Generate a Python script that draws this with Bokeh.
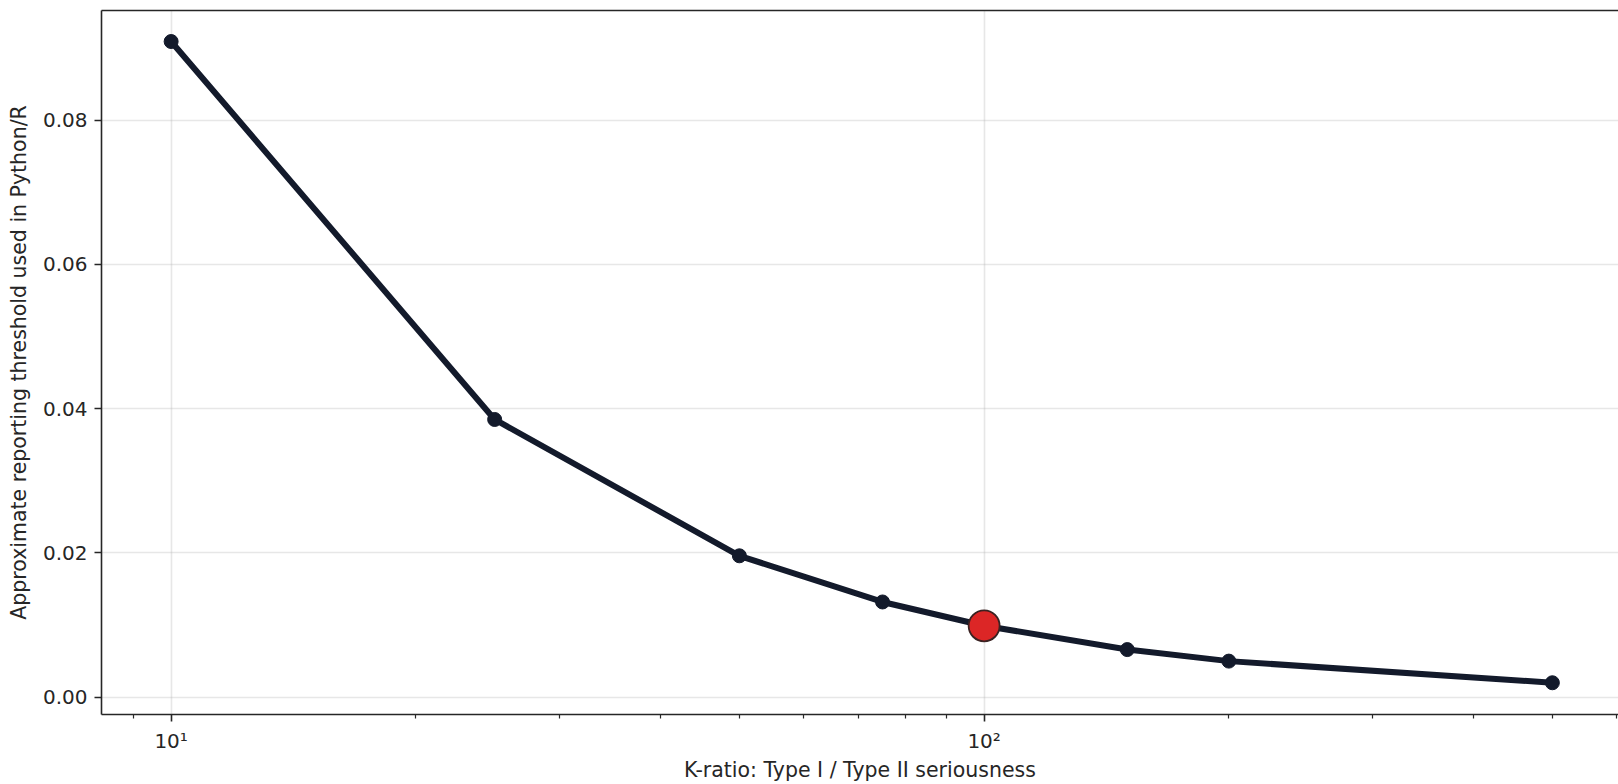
from bokeh.plotting import figure
from bokeh.models import FixedTicker, LinearAxis, Range1d, PrintfTickFormatter, ColumnDataSource
from bokeh.embed import file_html
from bokeh.resources import INLINE

# Data
K_RATIO = [10, 25, 50, 75, 100, 150, 200, 500]
THRESHOLD = [0.0909, 0.0385, 0.0196, 0.0132, 0.0099, 0.0066, 0.0050, 0.0020]
HIGHLIGHT_K = [100]
HIGHLIGHT_T = [0.0099]
X_TICKS = [10, 100]
X_TICK_LABELS = {10: "10\u00b9", 100: "10\u00b2"}
Y_TICKS = [0.0, 0.02, 0.04, 0.06, 0.08]
X_LABEL = "K-ratio: Type I / Type II seriousness"
Y_LABEL = "Approximate reporting threshold used in Python/R"

FONT = "DejaVu Sans"
TXT = "#262626"
SPINE = "#262626"

x_minor = [m * 10 ** d for d in (0, 1, 2) for m in range(2, 10)]
x_minor = [v for v in x_minor if 8.2 <= v <= 603 and v not in X_TICKS]

p = figure(width=1618, height=784, x_axis_type="log",
           x_range=Range1d(8.21, 603), y_range=Range1d(-0.0024, 0.0952),
           output_backend="svg", toolbar_location=None,
           min_border_left=101, min_border_right=0, min_border_top=10, min_border_bottom=69)
p.outline_line_color = None
p.background_fill_color = "white"
p.border_fill_color = "white"

src = ColumnDataSource(dict(k=K_RATIO, t=THRESHOLD))
p.line("k", "t", source=src, line_color="#131a2b", line_width=6, line_join="round", line_cap="round")
p.scatter("k", "t", source=src, size=14, fill_color="#131a2b", line_color="#131a2b")
p.scatter(HIGHLIGHT_K, HIGHLIGHT_T, size=31, fill_color="#dc2626", line_color="#3a2222", line_width=1.8)

xa = p.xaxis[0]
xa.ticker = FixedTicker(ticks=X_TICKS, minor_ticks=x_minor)
xa.major_label_overrides = X_TICK_LABELS
xa.axis_label = X_LABEL

ya = p.yaxis[0]
ya.ticker = FixedTicker(ticks=Y_TICKS, minor_ticks=[])
ya.formatter = PrintfTickFormatter(format="%.2f")
ya.axis_label = Y_LABEL

for ax in (xa, ya):
    ax.axis_line_color = SPINE
    ax.axis_line_width = 1.6
    ax.major_tick_line_color = SPINE
    ax.major_tick_line_width = 1.6
    ax.major_tick_out = 7
    ax.major_tick_in = 0
    ax.minor_tick_line_color = SPINE
    ax.minor_tick_line_width = 1.2
    ax.minor_tick_out = 4
    ax.minor_tick_in = 0
    ax.major_label_text_font = FONT
    ax.major_label_text_font_size = "20px"
    ax.major_label_text_color = TXT
    ax.major_label_standoff = 7
    ax.axis_label_text_font = FONT
    ax.axis_label_text_font_size = "20.5px"
    ax.axis_label_text_font_style = "normal"
    ax.axis_label_text_color = TXT
    ax.axis_label_standoff = 9
xa.axis_label_standoff = 2

top = LinearAxis(ticker=FixedTicker(ticks=[]), major_tick_out=0, major_tick_in=0,
                 minor_tick_out=0, minor_tick_in=0, major_label_standoff=0,
                 major_label_text_font_size="0px", axis_line_color=SPINE, axis_line_width=1.6)
p.add_layout(top, "above")

for g in (p.xgrid[0], p.ygrid[0]):
    g.grid_line_color = "#b0b0b0"
    g.grid_line_alpha = 0.3
    g.grid_line_width = 1.6

open("out.html", "w").write(file_html(p, INLINE))
